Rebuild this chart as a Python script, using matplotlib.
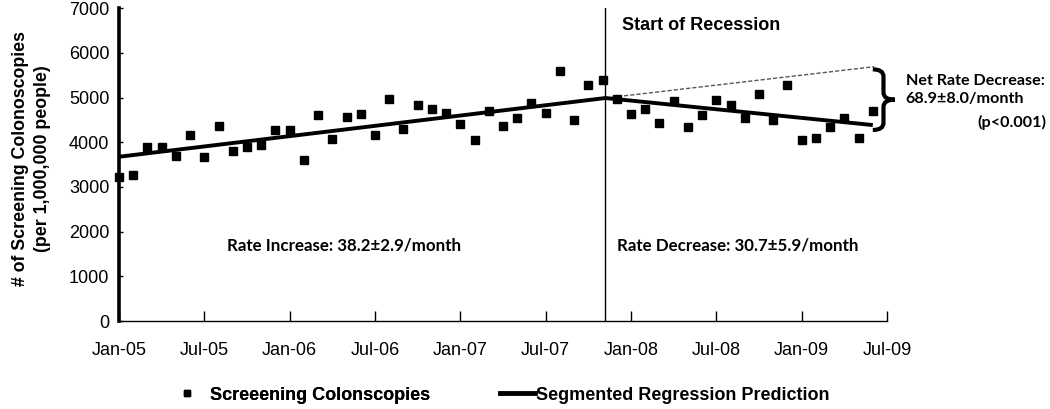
import matplotlib
matplotlib.use('Agg')
import matplotlib.pyplot as plt
from matplotlib.path import Path
from matplotlib.patches import PathPatch
from matplotlib.lines import Line2D

# monthly screening colonoscopy rates, Jan-05 .. Jun-09 (per 1,000,000 people)
months = list(range(54))
rates = [3222, 3266, 3893, 3885, 3684, 4168, 3661, 4370, 3803, 3893,
         3930, 4266, 4266, 3609, 4609, 4064, 4558, 4631, 4161, 4959,
         4288, 4832, 4735, 4650, 4407, 4049, 4691, 4362, 4534, 4869,
         4660, 5585, 4504, 5280, 5384, 4959, 4631, 4750, 4437, 4929,
         4333, 4616, 4937, 4825, 4541, 5086, 4497, 5287, 4057, 4086,
         4333, 4549, 4086, 4691]

# segmented regression prediction (end points)
break_month = 34.2
pre_x = [0, break_month]
pre_y = [3676, 4990]
post_x = [break_month, 53]
post_y = [4990, 4385]
cf_x = [break_month, 53.1]          # counterfactual (no recession) trend
cf_y = [4990, 5691]

tick_months = [0, 6, 12, 18, 24, 30, 36, 42, 48, 54]
tick_labels = ['Jan-05', 'Jul-05', 'Jan-06', 'Jul-06', 'Jan-07',
               'Jul-07', 'Jan-08', 'Jul-08', 'Jan-09', 'Jul-09']

plt.rcParams['font.family'] = ['Liberation Sans', 'DejaVu Sans']
CALIBRI_LIKE = ['Lato', 'DejaVu Sans']

fig = plt.figure(figsize=(10.5, 4.09), dpi=100)
ax = fig.add_axes([0.1133, 0.215, 0.7315, 0.765])

ax.plot(months, rates, 's', color='black', markersize=5.5, clip_on=False, zorder=4)
ax.plot(pre_x, pre_y, color='black', lw=2.8, solid_capstyle='butt', zorder=3)
ax.plot(post_x, post_y, color='black', lw=2.8, solid_capstyle='butt', zorder=3)
ax.plot(cf_x, cf_y, color='#555555', lw=1, linestyle=(0, (3, 1.5)), clip_on=False, zorder=2)
ax.axvline(break_month, color='black', lw=1, zorder=2)

ax.set_xlim(0, 54)
ax.set_ylim(0, 7000)
ax.set_xticks(tick_months)
ax.set_xticklabels(tick_labels)
ax.set_yticks(range(0, 7001, 1000))

for s in ['top', 'right']:
    ax.spines[s].set_visible(False)
ax.spines['left'].set_linewidth(2.6)
ax.spines['bottom'].set_linewidth(1)

ax.tick_params(axis='x', direction='in', length=7, width=1, pad=15, labelsize=13)
ax.tick_params(axis='y', direction='in', length=3, width=1, pad=7, labelsize=13)

ax.set_ylabel('# of Screening Colonoscopies\n(per 1,000,000 people)',
              fontsize=12.8, fontweight='bold', linespacing=1.45)
ax.yaxis.set_label_coords(-0.088, 0.52)

# annotations
ax.text(35.4, 6620, 'Start of Recession', fontsize=13, fontweight='bold',
        ha='left', va='center')
ax.text(7.6, 1700, 'Rate Increase: 38.2\u00b12.9/month', family=CALIBRI_LIKE,
        fontsize=12.2, fontweight='bold', ha='left', va='center')
ax.text(35.0, 1700, 'Rate Decrease: 30.7\u00b15.9/month', family=CALIBRI_LIKE,
        fontsize=12.2, fontweight='bold', ha='left', va='center')
ax.text(55.3, 5170, 'Net Rate Decrease:\n68.9\u00b18.0/month', family=CALIBRI_LIKE,
        fontsize=11.6, fontweight='bold', ha='left', va='center',
        linespacing=1.4, clip_on=False)
ax.text(65.2, 4440, '(p<0.001)', family=CALIBRI_LIKE,
        fontsize=11.6, fontweight='bold', ha='right', va='center', clip_on=False)

# curly brace spanning predicted vs counterfactual end values
top = cf_y[1] - 60
bot = post_y[1] - 110
mid = (top + bot) / 2
x0, xv, xt = 53.0, 53.75, 54.55
r = 160
verts = [(x0, top), (xv, top), (xv, top - r),
         (xv, mid + r), (xv, mid), (xt, mid),
         (xv, mid), (xv, mid - r),
         (xv, bot + r), (xv, bot), (x0, bot)]
codes = [Path.MOVETO, Path.CURVE3, Path.CURVE3,
         Path.LINETO, Path.CURVE3, Path.CURVE3,
         Path.CURVE3, Path.CURVE3,
         Path.LINETO, Path.CURVE3, Path.CURVE3]
brace = PathPatch(Path(verts, codes), facecolor='none', edgecolor='black',
                  lw=3, clip_on=False, zorder=5)
ax.add_patch(brace)

# legend: two pieces so each keeps its own spacing
leg_font = {'size': 13, 'weight': 'bold'}
leg1 = fig.legend([Line2D([], [], marker='s', color='black', linestyle='none', markersize=5)],
                  ['Screeening Colonscopies'], loc='center left',
                  bbox_to_anchor=(0.154, 0.034), frameon=False, prop=leg_font,
                  handlelength=1.0, handletextpad=0.8)
fig.add_artist(leg1)
fig.legend([Line2D([], [], color='black', lw=3.5)],
           ['Segmented Regression Prediction'], loc='center left',
           bbox_to_anchor=(0.461, 0.034), frameon=False, prop=leg_font,
           handlelength=1.9, handletextpad=0.05)

fig.savefig('out.png', dpi=100)
